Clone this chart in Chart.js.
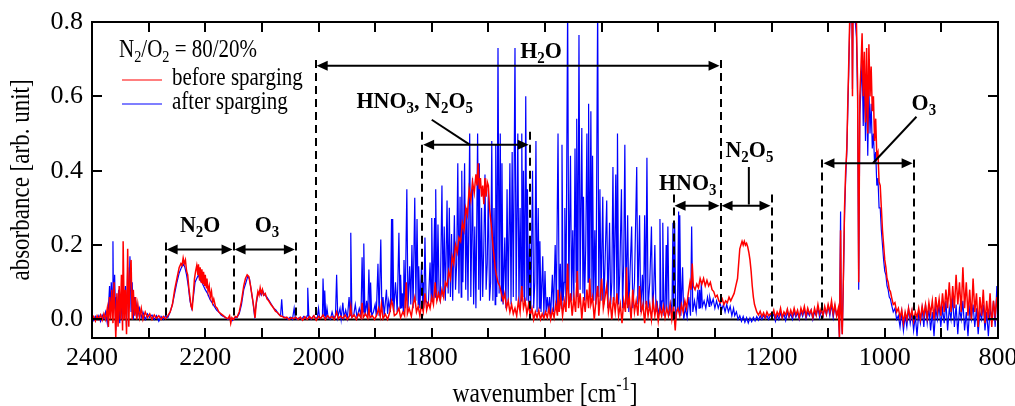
<!DOCTYPE html>
<html>
<head>
<meta charset="utf-8">
<script src="https://cdn.jsdelivr.net/npm/chart.js@4.4.1/dist/chart.umd.min.js"></script>
<style>
  html, body { margin: 0; padding: 0; background: #fff; }
  canvas { display: block; }
</style>
</head>
<body>
<canvas id="spectrum" width="1015" height="406"></canvas>
<script>
// FTIR spectrum, N2/O2 = 80/20%, before / after sparging

const wavenumberTicks = [2400, 2200, 2000, 1800, 1600, 1400, 1200, 1000, 800];
const wavenumberMinor = [2400, 2300, 2200, 2100, 2000, 1900, 1800, 1700, 1600, 1500, 1400, 1300, 1200, 1100, 1000, 900, 800];
const absorbanceTicks = [0, 0.2, 0.4, 0.6, 0.8];

const legendTitle = "N_{2}/O_{2} = 80/20%";
const xTitle = "wavenumber [cm^{-1}]";
const yTitle = "absorbance [arb. unit]";

// [wavenumber, absorbance]
const beforeSparging = [
  [2400,0.0],[2397,0.008],[2394,-0.004],[2391,0.01],[2388,0.0],[2385,0.012],[2382,-0.002],[2379,0.015],[2376,0.0],[2373,0.03],
  [2371,-0.02],[2369,0.06],[2367,0.0],[2365,0.08],[2363,-0.01],[2361,0.1],[2359,0.0],[2358,-0.05],[2356,0.07],[2354,-0.02],
  [2352,0.09],[2350,0.0],[2348,0.12],[2346,-0.03],[2345,0.21],[2343,0.0],[2341,0.08],[2339,-0.04],[2337,0.19],[2335,-0.02],
  [2333,0.12],[2331,0.16],[2329,0.0],[2327,0.08],[2325,0.01],[2323,0.06],[2321,0.0],[2319,0.04],[2316,0.005],[2313,0.03],
  [2310,0.0],[2306,0.02],[2302,0.005],[2298,0.015],[2294,0.0],[2290,0.012],[2286,0.003],[2282,0.01],[2278,0.0],[2274,0.008],
  [2270,0.002],[2266,0.01],[2262,0.02],
  [2258,0.04],[2254,0.08],[2250,0.11],[2246,0.14],[2243,0.15],[2241,0.145],[2239,0.165],[2237,0.15],[2235,0.16],[2233,0.13],
  [2231,0.12],[2229,0.085],[2227,0.06],[2225,0.035],[2223,0.028],[2221,0.07],[2219,0.11],[2217,0.13],[2215,0.145],[2213,0.12],
  [2212,0.148],[2210,0.105],[2209,0.14],[2207,0.1],[2206,0.135],[2204,0.095],[2203,0.128],[2201,0.09],[2200,0.12],[2198,0.085],
  [2197,0.11],[2195,0.075],[2193,0.09],[2191,0.06],[2189,0.075],[2187,0.045],[2185,0.055],[2182,0.035],[2179,0.03],[2176,0.02],
  [2172,0.015],[2168,0.01],[2164,0.005],[2160,0.002],[2157,0.01],[2155,-0.01],[2153,0.005],[2150,0.0],[2147,0.008],
  [2144,0.006],[2140,0.02],[2136,0.05],[2132,0.09],[2129,0.11],[2126,0.12],[2123,0.115],[2120,0.09],[2117,0.06],[2114,0.03],
  [2112,0.004],[2110,0.045],[2107,0.075],[2105,0.065],[2103,0.085],[2101,0.07],[2099,0.08],[2097,0.065],[2094,0.07],[2091,0.055],
  [2088,0.05],[2084,0.04],[2080,0.032],[2076,0.022],[2072,0.018],[2068,0.01],[2064,0.008],[2060,0.004],[2056,0.006],[2052,0.0],
  [2048,0.005],[2044,0.002],[2040,0.006],
  [2036,0.0],[2032,0.006],[2028,-0.002],[2024,0.007],[2020,0.0],[2016,0.008],[2012,0.002],[2008,0.01],[2004,-0.002],[2000,0.008],
  [1996,0.003],[1992,0.012],[1988,0.0],[1984,0.01],[1980,0.004],[1976,0.008],[1972,0.0],[1968,0.02],[1965,0.002],[1961,0.009],
  [1957,0.003],[1953,0.012],[1949,0.0],[1945,0.01],[1943,0.035],[1941,0.005],[1937,0.012],[1933,0.0],[1929,0.015],[1925,0.004],
  [1923,0.045],[1921,0.005],[1917,0.015],[1913,0.003],[1911,0.03],[1909,0.005],[1905,0.01],[1901,0.0],[1897,0.012],[1894,0.03],
  [1891,0.008],[1889,0.04],[1886,0.002],[1882,0.014],[1878,0.0],[1874,0.02],[1871,0.05],[1869,0.04],[1866,0.01],[1862,0.015],
  [1858,0.03],[1855,0.005],[1851,0.02],[1848,0.01],[1845,0.1],[1843,0.015],[1840,0.03],[1836,0.008],[1833,0.04],[1830,0.06],
  [1827,0.02],[1824,0.035],[1821,0.01],[1818,0.04],[1815,0.02],[1812,0.07],[1809,0.025],[1806,0.045],[1803,0.03],[1800,0.06],
  [1797,0.04],[1794,0.1],[1791,0.05],[1788,0.07],[1785,0.05],
  [1782,0.08],[1779,0.06],[1776,0.1],[1773,0.09],[1770,0.13],[1767,0.11],[1764,0.17],[1761,0.15],[1758,0.2],[1755,0.18],
  [1752,0.22],[1749,0.21],[1746,0.26],[1743,0.24],[1740,0.3],[1737,0.28],[1734,0.35],[1731,0.32],[1728,0.37],[1725,0.34],
  [1722,0.39],[1720,0.36],[1718,0.42],[1716,0.35],[1714,0.38],[1712,0.33],[1710,0.36],[1708,0.31],[1706,0.38],[1704,0.33],
  [1702,0.37],[1700,0.36],[1698,0.3],[1696,0.27],[1694,0.24],[1692,0.2],[1690,0.17],[1688,0.14],[1686,0.12],[1683,0.1],
  [1680,0.09],[1677,0.07],[1674,0.05],[1671,0.07],[1668,0.03],[1665,0.05],[1662,0.02],[1659,0.04],[1656,0.015],[1653,0.03],
  [1650,0.01],[1647,0.05],[1644,0.02],[1641,0.09],[1638,0.03],[1635,0.05],[1632,0.015],[1629,0.04],[1626,0.01],[1623,0.03],
  [1620,0.0],[1617,0.02],[1614,0.005],[1611,0.025],[1608,0.0],[1605,0.015],[1602,0.003],
  [1599,0.02],[1596,0.005],[1593,0.03],[1590,0.0],[1587,0.025],[1584,0.005],[1581,0.04],[1578,0.01],[1577,0.08],[1575,0.02],
  [1572,0.06],[1569,0.01],[1566,0.05],[1563,0.02],[1560,0.15],[1558,0.03],[1555,0.07],[1552,0.01],[1549,0.06],[1546,0.02],
  [1543,0.13],[1541,0.03],[1538,0.07],[1535,0.0],[1532,0.06],[1529,0.02],[1526,0.08],[1523,0.03],[1521,0.11],[1519,0.04],
  [1516,0.06],[1513,0.0],[1510,0.05],[1507,0.09],[1505,0.01],[1502,0.07],[1500,0.11],[1497,0.03],[1494,0.06],[1491,0.09],
  [1488,0.02],[1485,0.05],[1482,0.0],[1479,0.06],[1476,0.02],[1473,0.07],[1470,0.01],[1467,0.04],[1464,-0.01],[1461,0.05],
  [1458,0.02],[1456,0.14],[1454,0.03],[1451,0.06],[1448,0.0],[1445,0.08],[1442,0.02],[1439,0.05],[1436,0.01],[1433,0.09],
  [1430,0.02],[1427,0.04],[1424,-0.01],[1421,0.05],[1418,0.01],[1415,0.04],[1412,0.0],[1409,0.05],[1406,0.01],[1403,0.04],
  [1400,-0.005],
  [1397,0.03],[1394,0.01],[1391,0.035],[1388,0.005],[1385,0.03],[1382,0.01],[1379,0.04],[1376,0.0],[1373,0.035],[1370,-0.03],
  [1368,0.02],[1365,0.03],[1362,0.01],[1359,0.04],[1356,0.02],[1353,0.05],[1350,0.03],[1347,0.07],[1344,0.1],[1342,0.08],
  [1340,0.15],[1338,0.09],[1335,0.08],[1332,0.095],[1329,0.085],[1326,0.11],[1323,0.095],[1320,0.11],[1317,0.09],[1314,0.105],
  [1311,0.09],[1308,0.1],[1305,0.08],[1302,0.075],[1299,0.06],[1296,0.065],[1293,0.05],[1290,0.045],[1287,0.055],[1284,0.04],
  [1281,0.05],[1278,0.045],[1275,0.06],[1272,0.05],[1269,0.06],[1266,0.07],[1263,0.09],[1260,0.11],[1258,0.15],[1256,0.19],
  [1254,0.2],[1252,0.21],[1250,0.2],[1248,0.21],[1246,0.2],[1244,0.205],[1242,0.195],[1240,0.18],[1238,0.16],[1236,0.13],
  [1234,0.09],[1232,0.06],[1230,0.04],[1228,0.03],[1226,0.02],[1223,0.012],[1220,0.022],[1217,0.008],[1214,0.018],[1211,0.005],
  [1208,0.02],[1205,0.01],[1202,0.015],
  [1199,0.01],[1196,0.025],[1193,0.005],[1190,0.02],[1187,0.01],[1184,0.03],[1181,0.005],[1178,0.02],[1175,0.012],[1172,0.028],
  [1169,0.008],[1166,0.025],[1163,0.01],[1160,0.03],[1157,0.012],[1154,0.025],[1151,0.005],[1148,0.03],[1145,0.015],[1142,0.035],
  [1139,0.01],[1136,0.03],[1133,0.015],[1130,0.025],[1127,0.005],[1124,0.03],[1121,0.012],[1118,0.04],[1115,0.015],[1112,0.03],
  [1109,0.01],[1106,0.035],[1103,0.015],[1100,0.04],[1097,0.02],[1094,0.05],[1091,0.015],[1088,0.04],[1085,0.01],[1082,0.03],
  [1080,-0.05],[1078,0.24],[1077,0.02],[1075,-0.04],[1073,0.12],[1071,0.3],[1069,0.4],[1067,0.46],[1065,0.6],[1064,0.66],
  [1062,0.8],[1060,0.85],[1058,0.85],[1057,0.6],[1056,0.85],[1054,0.85],[1052,0.85],[1050,0.8],[1048,0.64],[1046,0.1],
  [1044,0.6],[1042,0.68],[1040,0.77],[1038,0.6],[1036,0.72],[1034,0.53],[1032,0.73],[1030,0.5],[1028,0.74],[1026,0.6],
  [1024,0.68],[1022,0.56],[1020,0.6],[1018,0.48],[1016,0.54],[1014,0.44],[1012,0.45],[1010,0.37],[1008,0.36],[1006,0.3],
  [1004,0.24],[1002,0.2],[1000,0.16],[998,0.14],[996,0.11],[994,0.1],[992,0.08],[990,0.075],[988,0.06],[985,0.04],
  [982,0.045],[979,0.02],
  [976,0.03],[973,0.005],[970,0.025],[967,-0.01],[964,0.02],[961,0.0],[958,0.03],[955,0.005],[952,0.025],[949,-0.005],
  [946,0.02],[943,0.005],[940,0.03],[937,0.0],[934,0.035],[931,0.01],[928,0.04],[925,0.005],[922,0.045],[919,0.015],
  [916,0.05],[913,0.0],[910,0.06],[907,0.02],[904,0.055],[901,0.01],[898,0.07],[895,0.02],[892,0.08],[889,0.03],
  [886,0.1],[883,0.02],[880,0.09],[877,0.03],[874,0.12],[871,0.04],[868,0.1],[865,0.02],[862,0.14],[859,0.03],
  [856,0.1],[853,0.01],[850,0.08],[847,0.0],[844,0.11],[841,0.02],[838,0.07],[835,-0.02],[832,0.06],[829,0.01],
  [826,0.08],[823,-0.01],[820,0.05],[817,0.0],[814,0.07],[811,-0.02],[808,0.05],[805,0.01],[802,0.06],[800,0.02]
];

const afterSparging = [
  [2400,0.005],[2397,-0.003],[2394,0.008],[2391,0.0],[2388,0.01],[2385,-0.005],[2382,0.012],[2379,0.002],[2376,0.02],[2373,-0.01],
  [2371,0.03],[2369,0.09],[2367,0.02],[2366,0.1],[2364,0.04],[2363,0.21],[2362,0.03],[2360,0.12],[2358,-0.03],[2357,0.06],
  [2355,0.02],[2353,0.08],[2351,-0.01],[2349,0.06],[2347,0.0],[2345,0.11],[2343,0.02],[2341,0.09],[2339,-0.02],[2337,0.14],
  [2335,0.03],[2333,0.17],[2331,0.02],[2329,0.1],[2327,0.0],[2325,0.06],[2323,0.02],[2321,0.04],[2319,0.01],[2316,0.03],
  [2313,0.005],[2310,0.02],[2306,0.0],[2302,0.015],[2298,0.005],[2294,0.012],[2290,0.0],[2286,0.01],[2282,-0.005],[2278,0.008],
  [2274,0.0],[2270,0.01],[2266,0.005],[2262,0.02],
  [2258,0.04],[2254,0.07],[2250,0.1],[2246,0.125],[2242,0.14],[2239,0.15],[2236,0.14],[2233,0.12],[2230,0.09],[2227,0.05],
  [2224,0.03],[2221,0.06],[2218,0.1],[2215,0.11],[2212,0.12],[2209,0.105],[2206,0.1],[2203,0.09],[2200,0.08],[2196,0.07],
  [2192,0.055],[2188,0.045],[2184,0.035],[2180,0.025],[2176,0.02],[2172,0.012],[2168,0.008],[2164,0.005],[2160,0.0],[2156,0.004],
  [2152,-0.003],[2148,0.005],
  [2144,0.005],[2140,0.015],[2136,0.04],[2132,0.08],[2128,0.1],[2125,0.115],[2122,0.11],[2119,0.08],[2116,0.05],[2113,0.01],
  [2110,0.04],[2107,0.07],[2104,0.075],[2101,0.065],[2098,0.075],[2095,0.065],[2091,0.06],[2087,0.05],[2083,0.04],[2079,0.03],
  [2075,0.025],[2071,0.015],[2067,0.01],[2065,0.054],[2063,0.008],[2058,0.005],[2054,0.0],[2050,0.006],[2046,0.0],[2043,0.03],
  [2041,0.004],[2038,0.0],[2034,0.005],[2030,0.0],[2026,0.008],[2022,0.002],[2020,0.01],[2019,0.085],[2017,0.005],[2013,0.0],
  [2009,0.01],[2005,0.002],[2002,0.006],[2000,0.03],[1998,0.003],
  [1995,0.005],[1993,0.01],[1992,0.11],[1990,0.01],[1989,0.078],[1987,0.0],[1985,0.03],[1983,0.005],[1979,0.0],[1976,0.02],
  [1973,0.003],[1970,0.01],[1968,0.12],[1966,0.005],[1962,0.03],[1960,0.0],[1957,0.045],[1955,0.005],[1952,0.025],[1949,0.003],
  [1946,0.06],[1944,0.01],[1943,0.233],[1941,0.005],[1938,0.01],[1935,0.04],[1932,0.005],[1928,0.03],[1925,0.01],[1923,0.167],
  [1921,0.02],[1920,0.204],[1918,0.01],[1915,0.05],[1913,0.01],[1911,0.134],[1909,0.02],[1908,0.099],[1906,0.01],[1903,0.02],
  [1900,0.04],[1898,0.01],[1895,0.15],[1893,0.01],[1890,0.215],[1888,0.02],[1886,0.06],[1884,0.01],[1880,0.08],[1878,0.015],
  [1876,0.05],[1873,0.02],[1871,0.27],[1870,0.05],[1869,0.27],[1867,0.02],[1864,0.1],[1861,0.02],[1858,0.233],[1856,0.03],
  [1855,0.12],[1853,0.03],[1852,0.07],[1850,0.02],[1849,0.16],[1847,0.03],[1844,0.35],[1842,0.03],[1839,0.143],[1837,0.04],
  [1835,0.2],[1833,0.03],[1830,0.327],[1828,0.05],[1826,0.27],[1824,0.04],[1823,0.143],[1821,0.03],[1818,0.15],[1816,0.04],
  [1815,0.1],[1814,0.03],[1812,0.22],[1810,0.05],[1806,0.04],[1803,0.153],[1801,0.05],[1800,0.273],[1798,0.05],[1795,0.273],
  [1794,0.06],[1793,0.35],[1791,0.05],[1789,0.255],[1787,0.06],
  [1785,0.05],[1782,0.36],[1780,0.06],[1778,0.25],[1776,0.05],[1773,0.32],[1771,0.07],[1769,0.3],[1767,0.06],[1765,0.23],
  [1763,0.05],[1760,0.28],[1758,0.08],[1756,0.15],[1754,0.42],[1752,0.07],[1750,0.33],[1748,0.06],[1747,0.4],[1745,0.1],
  [1742,0.42],[1740,0.08],[1738,0.3],[1736,0.05],[1733,0.5],[1731,0.06],[1728,0.38],[1726,0.04],[1724,0.25],[1722,0.03],
  [1719,0.5],[1717,0.08],[1716,0.42],[1714,0.05],[1712,0.3],[1710,0.06],[1708,0.2],[1706,0.39],[1704,0.08],[1702,0.15],
  [1700,0.35],[1698,0.05],[1696,0.1],[1694,0.48],[1692,0.05],[1690,0.3],[1688,0.04],[1687,0.47],[1685,0.06],[1683,0.73],
  [1681,0.07],[1679,0.5],[1677,0.05],[1676,0.42],[1674,0.04],[1671,0.22],[1669,0.03],[1667,0.35],[1665,0.05],[1662,0.42],
  [1660,0.04],[1658,0.45],[1656,0.06],[1653,0.73],[1651,0.05],[1648,0.5],[1646,0.04],[1644,0.3],[1642,0.05],[1641,0.5],
  [1639,0.06],[1638,0.4],[1636,0.04],[1634,0.6],[1632,0.05],[1631,0.35],[1629,0.03],[1627,0.22],[1625,0.02],[1622,0.4],
  [1620,0.03],[1618,0.1],[1616,0.48],[1614,0.02],[1612,0.3],[1610,0.03],[1609,0.21],[1607,0.02],[1604,0.17],[1602,0.01],
  [1600,0.13],[1598,0.02],
  [1596,0.06],[1594,0.02],[1592,0.06],[1590,0.01],[1587,0.12],[1585,0.02],[1582,0.2],[1580,0.03],[1577,0.5],[1575,0.04],
  [1573,0.15],[1571,0.03],[1570,0.47],[1568,0.05],[1566,0.1],[1565,0.3],[1563,0.04],[1560,0.85],[1558,0.06],[1555,0.44],
  [1553,0.05],[1551,0.24],[1549,0.04],[1547,0.46],[1545,0.1],[1544,0.54],[1542,0.06],[1540,0.765],[1538,0.08],[1535,0.515],
  [1533,0.07],[1532,0.33],[1530,0.05],[1528,0.2],[1526,0.5],[1524,0.1],[1523,0.58],[1521,0.08],[1519,0.56],[1517,0.06],
  [1516,0.44],[1514,0.05],[1512,0.24],[1510,0.04],[1507,0.85],[1505,0.06],[1503,0.35],[1501,0.05],[1498,0.33],[1496,0.04],
  [1494,0.15],[1491,0.32],[1489,0.03],[1486,0.26],[1484,0.04],[1482,0.1],[1480,0.41],[1478,0.05],[1475,0.39],[1473,0.06],
  [1472,0.5],[1470,0.04],[1468,0.12],[1465,0.35],[1463,0.03],[1461,0.15],[1459,0.47],[1457,0.04],[1454,0.28],[1452,0.02],
  [1450,0.12],[1447,0.25],[1445,0.03],[1442,0.1],[1438,0.41],[1436,0.04],[1433,0.28],[1431,0.02],[1428,0.12],[1426,0.03],
  [1424,0.28],[1422,0.04],[1420,0.435],[1418,0.03],[1415,0.1],[1412,0.25],[1410,0.02],[1408,0.08],[1406,0.2],[1404,0.02],
  [1402,0.05],
  [1400,0.01],[1398,0.03],[1397,0.27],[1395,0.02],[1393,0.05],[1392,0.26],[1390,0.01],[1388,0.03],[1386,0.2],[1385,0.02],
  [1383,0.25],[1381,0.01],[1378,0.04],[1376,0.0],[1374,0.26],[1373,0.02],[1371,0.26],[1369,0.0],[1366,0.03],[1364,0.29],
  [1363,0.02],[1362,0.28],[1360,0.01],[1357,0.14],[1355,0.0],[1352,0.03],[1349,0.005],[1346,0.06],[1343,0.01],[1341,0.25],
  [1339,0.02],[1336,0.05],[1333,0.02],[1330,0.08],[1328,0.03],[1327,0.08],[1325,0.03],[1324,0.1],[1322,0.035],[1319,0.05],
  [1316,0.03],[1313,0.06],[1310,0.035],[1309,0.06],[1306,0.04],[1303,0.055],[1300,0.03],[1297,0.05],[1294,0.03],[1291,0.045],
  [1288,0.025],[1285,0.04],[1282,0.02],[1279,0.04],[1276,0.02],[1273,0.035],[1270,0.01],[1267,0.03],[1265,0.01],[1262,0.02],
  [1259,0.0],[1256,0.01],[1253,-0.005],[1250,0.008],[1247,-0.008],[1244,0.005],[1241,-0.01],[1238,0.004],[1235,-0.006],[1232,0.006],
  [1229,-0.004],[1226,0.008],[1223,-0.002],[1220,0.01],[1217,0.0],[1214,0.012],[1211,0.002],[1208,0.01],[1205,0.0],[1202,0.012],
  [1199,0.005],[1196,0.015],[1193,-0.005],[1190,0.012],[1187,0.0],[1184,0.018],[1181,0.003],[1178,0.015],[1175,-0.003],[1172,0.02],
  [1169,0.005],[1166,0.015],[1163,0.0],[1160,0.02],[1157,0.006],[1154,0.018],[1151,0.0],[1148,0.022],[1145,0.008],[1142,0.025],
  [1139,0.003],[1136,0.02],[1133,0.01],[1130,0.025],[1127,0.0],[1124,0.02],[1121,0.01],[1118,0.03],[1115,0.005],[1112,0.025],
  [1109,0.008],[1106,0.03],[1103,0.012],[1100,0.035],[1097,0.01],[1094,0.04],[1091,0.005],[1088,0.035],[1085,0.01],[1082,0.02],
  [1080,-0.05],[1078,0.29],[1077,0.04],[1075,-0.04],[1073,0.1],[1071,0.28],[1069,0.38],[1067,0.45],[1065,0.58],[1064,0.64],
  [1062,0.78],[1060,0.85],[1058,0.85],[1057,0.62],[1056,0.85],[1054,0.84],[1052,0.8],[1050,0.76],[1048,0.6],[1046,0.08],
  [1044,0.55],[1042,0.62],[1040,0.7],[1038,0.52],[1036,0.66],[1034,0.48],[1032,0.64],[1030,0.44],[1028,0.62],[1026,0.5],
  [1024,0.58],[1022,0.46],[1020,0.5],[1018,0.42],[1016,0.45],[1014,0.36],[1012,0.38],[1010,0.3],[1008,0.3],[1006,0.24],
  [1004,0.2],[1002,0.16],[1000,0.13],[998,0.12],[996,0.09],[994,0.08],[992,0.06],[990,0.055],[988,0.04],[985,0.02],
  [982,0.03],[979,0.0],
  [976,0.01],[973,-0.02],[970,0.02],[967,-0.03],[964,0.01],[961,-0.02],[958,0.03],[955,-0.01],[952,0.02],[949,-0.03],
  [946,0.01],[943,-0.045],[940,0.02],[937,-0.01],[934,0.03],[931,-0.02],[928,0.04],[925,-0.01],[922,0.03],[919,-0.03],
  [916,0.02],[913,-0.045],[910,0.03],[907,0.0],[904,0.04],[901,-0.02],[898,0.03],[895,-0.01],[892,0.05],[889,-0.03],
  [886,0.03],[883,0.0],[880,0.06],[877,-0.02],[874,0.04],[871,-0.04],[868,0.03],[865,0.0],[862,0.05],[859,-0.03],
  [856,0.02],[853,-0.045],[850,0.03],[847,0.0],[844,0.04],[841,-0.02],[838,0.03],[835,-0.04],[832,0.02],[829,0.0],
  [826,0.04],[823,-0.03],[820,0.02],[817,-0.045],[814,0.03],[811,0.0],[808,0.05],[805,-0.02],[802,0.09],[800,0.01]
];

// band markers: dashed lines [wavenumber, top], double arrows [from, to, height]
const dashedLines = [[2270,0.207],[2150,0.207],[2040,0.207],[2005,0.698],[1290,0.698],[1817,0.505],[1627,0.505],
  [1373,0.336],[1200,0.336],[1110,0.43],[949,0.43]];
const arrows = [[2270,2150,0.188],[2150,2040,0.188],[2005,1290,0.682],[1817,1627,0.47],
  [1373,1290,0.306],[1290,1200,0.306],[1110,949,0.42]];
// [text, wavenumber (centre), absorbance (baseline)]
const bandLabels = [["N_{2}O",2209,0.236],["O_{3}",2091,0.236],["H_{2}O",1607,0.703],["HNO_{3}, N_{2}O_{5}",1830,0.569],
  ["HNO_{3}",1348,0.349],["N_{2}O_{5}",1239,0.438],["O_{3}",931,0.564]];
// [wn1, abs1, wn2, abs2]
const leaders = [[1800,0.537,1733,0.47],[1240,0.41,1240,0.309],[944,0.545,1021,0.42]];

const FAMILY = '"Liberation Serif", "Times New Roman", serif';

function splitMarkup(str) {
  const out = [];
  const re = /([_^])\{([^}]*)\}/g;
  let last = 0, m;
  while ((m = re.exec(str))) {
    if (m.index > last) out.push([str.slice(last, m.index), ""]);
    out.push([m[2], m[1]]);
    last = re.lastIndex;
  }
  if (last < str.length) out.push([str.slice(last), ""]);
  return out;
}

// text with sub/superscripts, baseline at y
function richText(ctx, str, x, y, size, bold, align, stretch) {
  const segs = splitMarkup(str);
  const font = s => (bold ? "bold " : "") + s + "px " + FAMILY;
  let w = 0;
  segs.forEach(([t, k]) => {
    ctx.font = font(k ? size * 0.68 : size);
    w += ctx.measureText(t).width;
  });
  let cx = align === "center" ? x - w / 2 : x;
  ctx.save();
  ctx.translate(0, y);
  ctx.scale(1, stretch || 1);
  ctx.fillStyle = "#000";
  ctx.textAlign = "left";
  ctx.textBaseline = "alphabetic";
  segs.forEach(([t, k]) => {
    ctx.font = font(k ? size * 0.68 : size);
    const dy = k === "_" ? size * 0.22 : k === "^" ? -size * 0.42 : 0;
    ctx.fillText(t, cx, dy);
    cx += ctx.measureText(t).width;
  });
  ctx.restore();
}

function arrowHead(ctx, px, py, dir) {
  ctx.beginPath();
  ctx.moveTo(px, py);
  ctx.lineTo(px + dir * 11, py - 5);
  ctx.lineTo(px + dir * 11, py + 5);
  ctx.closePath();
  ctx.fill();
}

const decorations = {
  id: "decorations",
  beforeDatasetsDraw(chart) {
    const { ctx, chartArea: a, scales: { y } } = chart;
    ctx.save();
    ctx.strokeStyle = "#000";
    ctx.lineWidth = 2;
    ctx.beginPath();
    ctx.moveTo(a.left, y.getPixelForValue(0));
    ctx.lineTo(a.right, y.getPixelForValue(0));
    ctx.stroke();
    ctx.restore();
  },
  afterDatasetsDraw(chart) {
    const { ctx, chartArea: a, scales: { x, y } } = chart;
    ctx.save();
    ctx.strokeStyle = "#000";
    ctx.fillStyle = "#000";
    ctx.lineWidth = 2;

    ctx.setLineDash([8, 5]);
    dashedLines.forEach(([wn, top]) => {
      const px = Math.round(x.getPixelForValue(wn));
      ctx.beginPath();
      ctx.moveTo(px, y.getPixelForValue(top));
      ctx.lineTo(px, y.getPixelForValue(0));
      ctx.stroke();
    });
    ctx.setLineDash([]);

    arrows.forEach(([from, to, h]) => {
      const x1 = x.getPixelForValue(from), x2 = x.getPixelForValue(to);
      const py = y.getPixelForValue(h);
      ctx.beginPath();
      ctx.moveTo(x1 + 6, py);
      ctx.lineTo(x2 - 6, py);
      ctx.stroke();
      arrowHead(ctx, x1 + 1, py, 1);
      arrowHead(ctx, x2 - 1, py, -1);
    });

    leaders.forEach(([w1, a1, w2, a2]) => {
      ctx.beginPath();
      ctx.moveTo(x.getPixelForValue(w1), y.getPixelForValue(a1));
      ctx.lineTo(x.getPixelForValue(w2), y.getPixelForValue(a2));
      ctx.stroke();
    });

    bandLabels.forEach(([t, wn, ab]) => {
      richText(ctx, t, x.getPixelForValue(wn), y.getPixelForValue(ab), 22, true, "center", 1.05);
    });

    // legend inside the plot
    richText(ctx, legendTitle, a.left + 27, a.top + 35, 21, false, "left", 1.15);
    chart.data.datasets.forEach((ds, i) => {
      const ly = a.top + 58 + i * 24;
      ctx.strokeStyle = ds.borderColor;
      ctx.lineWidth = 1.2;
      ctx.beginPath();
      ctx.moveTo(a.left + 30, ly);
      ctx.lineTo(a.left + 70, ly);
      ctx.stroke();
      richText(ctx, ds.label, a.left + 80, ly + 5, 21, false, "left", 1.15);
    });
    ctx.restore();
  },
  afterDraw(chart) {
    const { ctx, chartArea: a, scales: { x, y } } = chart;
    ctx.save();
    ctx.strokeStyle = "#000";
    ctx.lineWidth = 2;
    ctx.beginPath();
    wavenumberMinor.forEach(v => {
      const px = Math.round(x.getPixelForValue(v));
      ctx.moveTo(px, a.bottom); ctx.lineTo(px, a.bottom - 10);
      ctx.moveTo(px, a.top); ctx.lineTo(px, a.top + 10);
    });
    absorbanceTicks.forEach(v => {
      const py = Math.round(y.getPixelForValue(v));
      ctx.moveTo(a.left, py); ctx.lineTo(a.left + 10, py);
      ctx.moveTo(a.right, py); ctx.lineTo(a.right - 10, py);
    });
    ctx.stroke();
    ctx.strokeRect(a.left, a.top, a.right - a.left, a.bottom - a.top);

    richText(ctx, xTitle, (a.left + a.right) / 2, 402, 23.5, false, "center", 1.2);
    ctx.translate(29, (a.top + a.bottom) / 2);
    ctx.rotate(-Math.PI / 2);
    richText(ctx, yTitle, 0, 0, 23, false, "center", 1.15);
    ctx.restore();
  }
};

new Chart(document.querySelector("#spectrum"), {
  type: "line",
  data: {
    datasets: [{
      label: "before sparging",
      data: beforeSparging.map(([x, y]) => ({ x, y })),
      borderColor: "#ff0000",
      borderWidth: 1.5
    }, {
      label: "after sparging",
      data: afterSparging.map(([x, y]) => ({ x, y })),
      borderColor: "#0000ff",
      borderWidth: 1.2
    }]
  },
  options: {
    responsive: false,
    animation: false,
    devicePixelRatio: 1,
    layout: { padding: { left: 0, right: 17, top: 22, bottom: 0 } },
    elements: { point: { radius: 0 }, line: { tension: 0 } },
    plugins: { legend: { display: false }, tooltip: { enabled: false } },
    scales: {
      x: {
        type: "linear",
        reverse: true,
        min: 800,
        max: 2400,
        grid: { display: false, drawTicks: false },
        border: { display: false },
        ticks: {
          color: "#000",
          font: { family: FAMILY, size: 26 },
          padding: 5,
          maxRotation: 0,
          autoSkip: false,
          callback: v => String(v)
        },
        afterBuildTicks: s => { s.ticks = wavenumberTicks.map(v => ({ value: v })); },
        afterFit: s => { s.height = 68; s.paddingLeft = 0; s.paddingRight = 0; }
      },
      y: {
        min: -0.05,
        max: 0.8,
        grid: { display: false, drawTicks: false },
        border: { display: false },
        ticks: {
          color: "#000",
          font: { family: FAMILY, size: 26 },
          padding: 9,
          callback: v => v.toFixed(1)
        },
        afterBuildTicks: s => { s.ticks = absorbanceTicks.map(v => ({ value: v })); },
        afterFit: s => { s.width = 92; s.paddingTop = 0; s.paddingBottom = 0; }
      }
    }
  },
  plugins: [decorations]
});
</script>
</body>
</html>
